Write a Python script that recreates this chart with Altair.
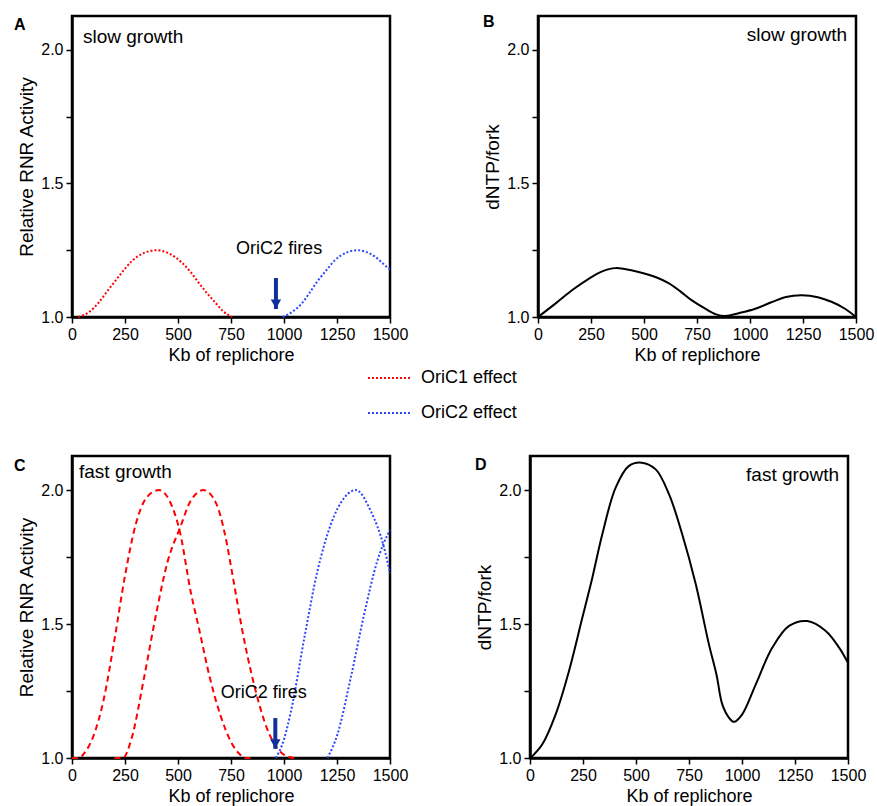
import altair as alt
import pandas as pd

FONT = "Liberation Sans"

# ---------------- data ----------------
# Panel A (slow growth, relative RNR activity)
A_ORIC1_KB = [30, 80, 126, 165, 204, 245, 283, 340, 401, 460, 519, 560, 597, 636, 676, 715, 755]
A_ORIC1_VAL = [1.0, 1.018, 1.054, 1.095, 1.135, 1.176, 1.21, 1.24, 1.25, 1.237, 1.203, 1.168, 1.129, 1.09, 1.054, 1.02, 1.0]
A_ORIC2_KB = [994, 1040, 1080, 1120, 1159, 1200, 1237, 1300, 1348, 1390, 1426, 1460, 1489, 1500]
A_ORIC2_VAL = [1.0, 1.02, 1.047, 1.09, 1.135, 1.175, 1.21, 1.243, 1.25, 1.243, 1.228, 1.205, 1.185, 1.178]

# Panel B (slow growth, dNTP/fork)
B_KB = [0, 82, 160, 239, 300, 365, 440, 506, 560, 616, 670, 726, 789, 840, 884, 950, 1025, 1104, 1170, 1245, 1320, 1387, 1450, 1500]
B_VAL = [1.0, 1.05, 1.10, 1.143, 1.17, 1.183, 1.175, 1.162, 1.148, 1.127, 1.097, 1.062, 1.031, 1.01, 1.004, 1.015, 1.031, 1.056, 1.075, 1.081, 1.074, 1.056, 1.03, 1.0]

# Panel C (fast growth, relative RNR activity)
C_ORIC1A_KB = [0, 30, 60, 100, 150, 200, 250, 300, 350, 410, 460, 510, 560, 600, 650, 700, 750, 790, 820, 850]
C_ORIC1A_VAL = [1.0, 1.0, 1.02, 1.08, 1.22, 1.44, 1.68, 1.87, 1.97, 2.0, 1.96, 1.84, 1.62, 1.48, 1.3, 1.16, 1.06, 1.015, 1.0, 1.0]
C_ORIC1B_KB = [200, 240, 280, 340, 400, 450, 510, 560, 620, 680, 720, 760, 800, 860, 920, 970, 1010, 1050]
C_ORIC1B_VAL = [1.0, 1.0, 1.07, 1.3, 1.55, 1.73, 1.86, 1.96, 2.0, 1.95, 1.84, 1.67, 1.49, 1.27, 1.11, 1.035, 1.008, 1.0]
C_ORIC2A_KB = [962, 1000, 1033, 1096, 1158, 1221, 1284, 1339, 1409, 1472, 1500]
C_ORIC2A_VAL = [1.0, 1.07, 1.175, 1.449, 1.698, 1.872, 1.971, 2.0, 1.922, 1.785, 1.69]
C_ORIC2B_KB = [1205, 1252, 1315, 1378, 1440, 1490, 1500]
C_ORIC2B_VAL = [1.0, 1.088, 1.3, 1.536, 1.735, 1.835, 1.85]

# Panel D (fast growth, dNTP/fork)
D_KB = [0, 11, 58, 121, 184, 247, 294, 341, 404, 467, 527, 593, 656, 718, 782, 844, 880, 907, 939, 962, 1001, 1065, 1143, 1222, 1308, 1395, 1458, 1500]
D_VAL = [1.0, 1.007, 1.051, 1.163, 1.325, 1.524, 1.673, 1.835, 2.009, 2.09, 2.102, 2.077, 1.984, 1.835, 1.648, 1.424, 1.31, 1.2, 1.15, 1.135, 1.163, 1.275, 1.412, 1.493, 1.511, 1.474, 1.412, 1.355]

# OriC2 firing arrows (kb, top value, tip value) and label anchors (kb, value)
ARROW_A = [962, 1.146, 1.03]
ARROW_C = [959, 1.149, 1.034]
FIRES_LABEL_A = [977, 1.236]
FIRES_LABEL_C = [905, 1.224]

EFFECTS = ["OriC1 effect", "OriC2 effect"]
X_TICKS = [0, 250, 500, 750, 1000, 1250, 1500]
Y_TICKS = [1.0, 1.25, 1.5, 1.75, 2.0]

RED = "#ff0000"
BLUE = "#2b46ff"
NAVY = "#12309b"

W, H = 318, 301

color_scale = alt.Scale(domain=EFFECTS, range=[RED, BLUE])
x_scale = alt.Scale(domain=[0, 1500], nice=False, zero=False)
y_scale = alt.Scale(domain=[1.0, 2.127], nice=False, zero=False)


def curve(kb, val, name, effect):
    return pd.DataFrame({"kb": kb, "value": val, "curve": name, "effect": effect})


def xy(ytitle):
    x = alt.X("kb:Q", scale=x_scale,
              axis=alt.Axis(values=X_TICKS, format="d", title="Kb of replichore",
                            labelFlush=False, labelOverlap=False))
    y = alt.Y("value:Q", scale=y_scale,
              axis=alt.Axis(values=Y_TICKS, title=ytitle, titleFontSize=19,
                            labelExpr="(datum.value == 1.25 || datum.value == 1.75) ? '' : format(datum.value, '.1f')"))
    return x, y


def effect_lines(df, dash, ytitle):
    x, y = xy(ytitle)
    return alt.Chart(df).mark_line(strokeWidth=2, strokeDash=dash, interpolate="monotone").encode(
        x=x, y=y,
        color=alt.Color("effect:N", scale=color_scale, legend=None),
        detail="curve:N",
    )


def black_line(kb, val, ytitle):
    x, y = xy(ytitle)
    df = pd.DataFrame({"kb": kb, "value": val})
    return alt.Chart(df).mark_line(strokeWidth=2, color="black", interpolate="catmull-rom").encode(x=x, y=y)


def letter(t, dx, dy):
    return alt.Chart(pd.DataFrame({"t": [t]})).mark_text(
        font=FONT, fontSize=16, fontWeight="bold", align="left", baseline="top", color="black"
    ).encode(x=alt.value(dx), y=alt.value(dy), text="t:N")


def note(t, px, py, align):
    return alt.Chart(pd.DataFrame({"t": [t]})).mark_text(
        font=FONT, fontSize=19, align=align, baseline="alphabetic", color="black"
    ).encode(x=alt.value(px), y=alt.value(py), text="t:N")


def arrow(a, lab):
    adf = pd.DataFrame({"kb": [a[0]], "top": [a[1]], "tip": [a[2]]})
    shaft = alt.Chart(adf).mark_rule(strokeWidth=4, color=NAVY).encode(
        x=alt.X("kb:Q", scale=x_scale), y=alt.Y("top:Q", scale=y_scale), y2="tip:Q")
    head = alt.Chart(adf).mark_point(shape="triangle-down", filled=True, size=110, color=NAVY,
                                     opacity=1, yOffset=-5).encode(
        x=alt.X("kb:Q", scale=x_scale), y=alt.Y("tip:Q", scale=y_scale))
    ldf = pd.DataFrame({"kb": [lab[0]], "value": [lab[1]], "t": ["OriC2 fires"]})
    text = alt.Chart(ldf).mark_text(font=FONT, fontSize=18, align="center", baseline="alphabetic",
                                    color="black").encode(
        x=alt.X("kb:Q", scale=x_scale), y=alt.Y("value:Q", scale=y_scale), text="t:N")
    return [shaft, head, text]


# ---------------- panels ----------------
a_df = pd.concat([curve(A_ORIC1_KB, A_ORIC1_VAL, "a1", "OriC1 effect"),
                  curve(A_ORIC2_KB, A_ORIC2_VAL, "a2", "OriC2 effect")])
panel_a = alt.layer(
    effect_lines(a_df, [2, 2], "Relative RNR Activity"),
    *arrow(ARROW_A, FIRES_LABEL_A),
    note("slow growth", 11, 27, "left"),
    letter("A", -58, 1),
).properties(width=W, height=H)

panel_b = alt.layer(
    black_line(B_KB, B_VAL, "dNTP/fork"),
    note("slow growth", 309, 25, "right"),
    letter("B", -55, -2),
).properties(width=W, height=H)

c_red = pd.concat([curve(C_ORIC1A_KB, C_ORIC1A_VAL, "c1", "OriC1 effect"),
                   curve(C_ORIC1B_KB, C_ORIC1B_VAL, "c2", "OriC1 effect")])
c_blue = pd.concat([curve(C_ORIC2A_KB, C_ORIC2A_VAL, "c3", "OriC2 effect"),
                    curve(C_ORIC2B_KB, C_ORIC2B_VAL, "c4", "OriC2 effect")])
panel_c = alt.layer(
    effect_lines(c_red, [6, 4], "Relative RNR Activity"),
    effect_lines(c_blue, [2, 2], "Relative RNR Activity"),
    *arrow(ARROW_C, FIRES_LABEL_C),
    note("fast growth", 7, 22, "left"),
    letter("C", -58, 2),
).properties(width=W, height=H + 1)

panel_d = alt.layer(
    black_line(D_KB, D_VAL, "dNTP/fork"),
    note("fast growth", 309, 25, "right"),
    letter("D", -55, 1),
).properties(width=W, height=H + 1)

# ---------------- legend ----------------
leg_df = pd.DataFrame({"effect": EFFECTS})
leg_y = alt.Y("effect:N", scale=alt.Scale(type="point", range=[10, 45], padding=0), axis=None)
leg_rules = alt.Chart(leg_df).mark_rule(strokeWidth=2, strokeDash=[2, 2]).encode(
    x=alt.value(296), x2=alt.value(339), y=leg_y,
    color=alt.Color("effect:N", scale=color_scale, legend=None))
leg_text = alt.Chart(leg_df).mark_text(font=FONT, fontSize=18, align="left", baseline="middle",
                                       color="black").encode(
    x=alt.value(349), y=leg_y, text="effect:N")
legend_chart = alt.layer(leg_rules, leg_text).properties(
    width=460, height=84, view=alt.ViewBackground(stroke="transparent"))

row1 = alt.hconcat(panel_a, panel_b, spacing=71)
row2 = alt.hconcat(panel_c, panel_d, spacing=63)

chart = alt.vconcat(row1, legend_chart, row2, spacing=0).resolve_scale(
    x="independent", y="independent"
).properties(
    padding={"left": 12, "top": 12, "right": 0, "bottom": 0}
).configure(font=FONT).configure_axis(
    domainColor="black", domainWidth=2.5, tickColor="black", tickWidth=1.5, tickSize=6,
    labelColor="black", labelFontSize=16, labelFont=FONT, labelPadding=3,
    titleFontSize=18, titleFontWeight="normal", titleColor="black", titleFont=FONT,
    titlePadding=4, grid=False,
).configure_view(stroke="black", strokeWidth=2.5)

chart.save("out.html", embed_options={"renderer": "svg", "actions": False})
